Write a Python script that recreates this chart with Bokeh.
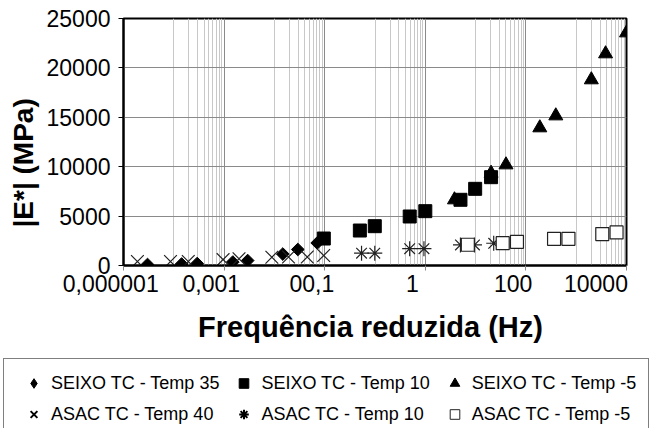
import math

from bokeh.plotting import figure
from bokeh.models import (FixedTicker, Range1d, Legend, LegendItem, Label, Title,
                          CustomJSTickFormatter)
from bokeh.embed import file_html
from bokeh.resources import INLINE

FONT = "Liberation Sans"

# axis ticks
x_ticks = [1e-6, 1e-4, 1e-2, 1, 100, 1e4]
x_tick_labels = ["0,000001", "0,001", "00,1", "1", "100", "10000"]
y_ticks = [0, 5000, 10000, 15000, 20000, 25000]

# reduced frequency (Hz) and dynamic modulus |E*| (MPa) per mixture / temperature
seixo35_f = [3.0e-6, 1.43e-5, 2.92e-5, 1.49e-4, 2.94e-4, 1.47e-3, 2.92e-3, 7.1e-3]
seixo35_e = [100, 150, 200, 350, 500, 1160, 1620, 2280]

seixo10_f = [9.6e-3, 0.05, 0.099, 0.49, 1.0, 5.0, 9.8, 20.3]
seixo10_e = [2730, 3540, 3980, 4960, 5500, 6650, 7760, 8940]

seixom5_f = [3.8, 20.3, 40.2, 189, 393, 2000, 3840, 10000]
seixom5_e = [6650, 9340, 10190, 13940, 15150, 18800, 21430, 23550]

asac40_f = [1.89e-6, 8.6e-6, 1.94e-5, 9.55e-5, 1.98e-4, 8.9e-4, 1.91e-3, 4.5e-3, 9.55e-3]
asac40_e = [400, 400, 400, 600, 680, 840, 860, 860, 1010]

asac10_f = [0.054, 0.099, 0.489, 0.94, 5.0, 9.5, 22.9]
asac10_e = [1250, 1250, 1700, 1700, 2080, 2080, 2250]

asacm5_f = [7.0, 34.6, 66.4, 363, 701, 3300, 6340]
asacm5_e = [2100, 2260, 2400, 2700, 2700, 3180, 3350]

# (label, x, y, marker style on the chart, marker style in the legend key)
series = [
    ("SEIXO TC - Temp 35", seixo35_f, seixo35_e,
     dict(marker="square", angle=math.pi / 4, size=9, color="black"),
     dict(marker="diamond", size=9, color="black")),
    ("SEIXO TC - Temp -5", seixom5_f, seixom5_e,
     dict(marker="triangle", size=14, color="black"),
     dict(marker="triangle", size=14, color="black")),
    ("SEIXO TC - Temp 10", seixo10_f, seixo10_e,
     dict(marker="square", size=13, color="black"),
     dict(marker="square", size=13, color="black")),
    ("ASAC TC - Temp 40", asac40_f, asac40_e,
     dict(marker="x", size=18, line_color="#222222", line_width=1.2),
     dict(marker="x", size=18, line_color="black", line_width=2)),
    ("ASAC TC - Temp 10", asac10_f, asac10_e,
     dict(marker="asterisk", size=15, line_color="#222222", line_width=1.2),
     dict(marker="asterisk", size=15, line_color="black", line_width=2)),
    ("ASAC TC - Temp -5", asacm5_f, asacm5_e,
     dict(marker="square", size=13, fill_color="white", line_color="#222222",
          line_width=1.2),
     dict(marker="square", size=13, fill_color="white", line_color="#222222",
          line_width=1)),
]
# legend reads column by column: two rows, three columns
legend_order = ["SEIXO TC - Temp 35", "ASAC TC - Temp 40",
                "SEIXO TC - Temp 10", "ASAC TC - Temp 10",
                "SEIXO TC - Temp -5", "ASAC TC - Temp -5"]

# page geometry
W = 653
TOP_H = 300                      # chart with its tick labels
BOT_H = 428 - TOP_H              # x title and legend
LEFT, RIGHT, TOP, BOTTOM = 121, 27, 18, 35

p = figure(width=W, height=TOP_H, x_axis_type="log",
           x_range=Range1d(1e-6, 1e4), y_range=Range1d(0, 25000),
           output_backend="svg", toolbar_location=None,
           min_border_left=LEFT, min_border_right=RIGHT,
           min_border_top=TOP, min_border_bottom=BOTTOM,
           background_fill_color="white", border_fill_color="white")

p.outline_line_color = "black"
p.outline_line_width = 2

# log axis: a major line every two decades, minor lines at 10x..90x of each major
minor = [m * 10 * k for m in x_ticks[:-1] for k in range(1, 10)]
xticker = FixedTicker(ticks=x_ticks, minor_ticks=minor)
p.xaxis.ticker = xticker
p.xgrid.ticker = xticker
p.xgrid.grid_line_color = "#8a8a8a"
p.xgrid.minor_grid_line_color = "#c8c8c8"

yticker = FixedTicker(ticks=y_ticks)
p.yaxis.ticker = yticker
p.ygrid.ticker = yticker
p.ygrid.grid_line_color = "#8a8a8a"

for ax in (p.xaxis[0], p.yaxis[0]):
    ax.axis_line_color = "black"
    ax.axis_line_width = 2
    ax.major_tick_out = 5
    ax.major_tick_in = 0
    ax.minor_tick_line_color = None
    ax.major_label_text_font = FONT
    ax.major_label_text_font_size = "23px"
    ax.major_label_text_color = "black"

# x tick labels sit a little left of their grid lines (trailing no-break spaces)
p.xaxis.formatter = CustomJSTickFormatter(
    args=dict(labels=x_tick_labels),
    code="return labels[index] + '\\u00a0\\u00a0\\u00a0\\u00a0'")
p.xaxis.major_tick_line_color = "#888888"
p.xaxis.major_label_standoff = 0

p.yaxis.major_tick_line_color = "black"
p.yaxis.major_label_standoff = 8

ytitle = Title(text="|E*| (MPa)", align="left", offset=38, standoff=10,
               text_font=FONT, text_font_size="28px", text_font_style="bold",
               text_color="black")
p.add_layout(ytitle, "left")

for name, fx, ey, style, key_style in series:
    p.scatter(fx, ey, **style)

# lower strip: x title and legend
q = figure(width=W, height=BOT_H, x_range=Range1d(0, W), y_range=Range1d(0, BOT_H),
           x_axis_location=None, y_axis_location=None,
           output_backend="svg", toolbar_location=None, min_border=0,
           background_fill_color="white", border_fill_color="white")
q.outline_line_color = None
q.grid.visible = False

q.add_layout(Label(x=370, y=BOT_H - 26, x_units="screen", y_units="screen",
                   text="Frequência reduzida (Hz)", text_align="center",
                   text_baseline="alphabetic", text_font=FONT,
                   text_font_size="29px", text_font_style="bold",
                   text_color="black"))

# legend keys: hidden copies of the series, used only for their marker styles
keys = {}
for name, fx, ey, style, key_style in series:
    keys[name] = q.scatter(fx, ey, visible=False, **key_style)

legend = Legend(items=[LegendItem(label=n, renderers=[keys[n]]) for n in legend_order],
                ncols=3, location=(3, -11), click_policy="none",
                label_text_font=FONT, label_text_font_size="18px",
                label_text_color="black",
                glyph_width=35, glyph_height=24, label_standoff=0, label_height=24,
                spacing=7, padding=12, margin=0,
                border_line_color="black", border_line_width=1,
                background_fill_color="white", background_fill_alpha=1)
q.add_layout(legend, "center")

open("out.html", "w").write(file_html([p, q], INLINE))
